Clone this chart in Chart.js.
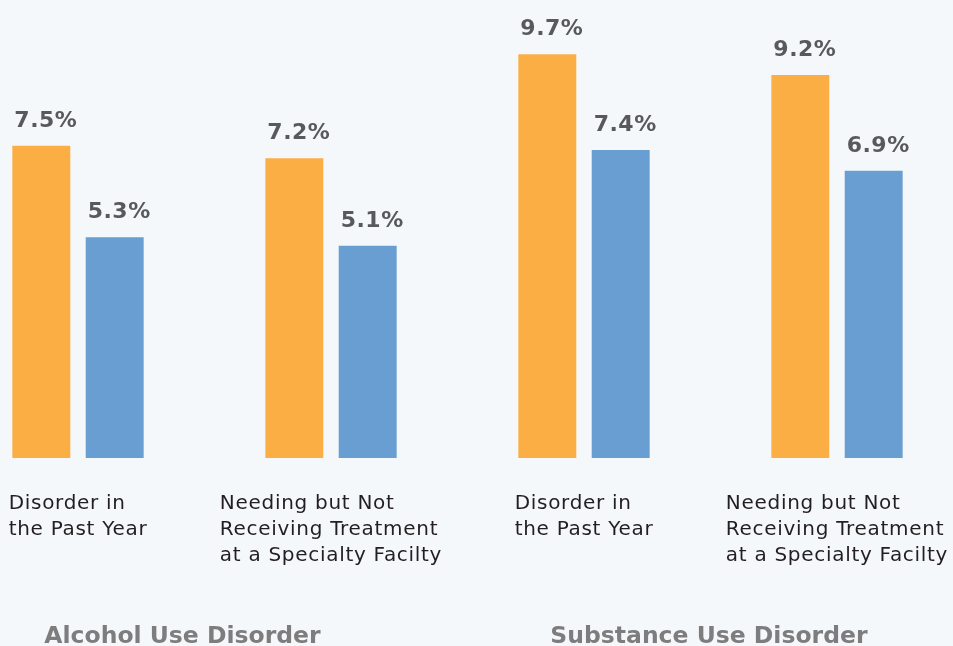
<!DOCTYPE html>
<html>
<head>
<meta charset="utf-8">
<script src="https://cdn.jsdelivr.net/npm/chart.js@4/dist/chart.umd.min.js"></script>
<style>
  html, body { margin: 0; padding: 0; background: #f5f8fb; }
  #wrap { position: relative; width: 953px; height: 646px; }
</style>
</head>
<body>
<div id="wrap"><canvas id="chart"></canvas></div>
<script>
// data
const categories = [
  ['Disorder in', 'the Past Year'],
  ['Needing but Not', 'Receiving Treatment', 'at a Specialty Facilty'],
  ['Disorder in', 'the Past Year'],
  ['Needing but Not', 'Receiving Treatment', 'at a Specialty Facilty']
];
const groups = ['Alcohol Use Disorder', 'Substance Use Disorder'];
const seriesA = [7.5, 7.2, 9.7, 9.2];   // orange
const seriesB = [5.3, 5.1, 7.4, 6.9];   // blue

const ORANGE = '#fbae43';
const BLUE = '#689ed1';
const FONT = '"DejaVu Sans", sans-serif';

// value labels above each bar, left aligned with the bar
const valueLabels = {
  id: 'valueLabels',
  afterDatasetsDraw(chart){
    const ctx = chart.ctx;
    ctx.save();
    ctx.font = 'bold 22px ' + FONT;
    ctx.letterSpacing = '0.5px';
    ctx.fillStyle = '#58595b';
    ctx.textAlign = 'left';
    ctx.textBaseline = 'alphabetic';
    chart.data.datasets.forEach((ds, di) => {
      chart.getDatasetMeta(di).data.forEach((bar, i) => {
        ctx.fillText(ds.data[i].toFixed(1) + '%', bar.x - bar.width/2 + 2, bar.y - 19);
      });
    });
    ctx.restore();
  }
};

// category labels under bars + group titles
const bottomLabels = {
  id: 'bottomLabels',
  afterDraw(chart){
    const ctx = chart.ctx;
    const metaA = chart.getDatasetMeta(0).data;
    const metaB = chart.getDatasetMeta(1).data;
    ctx.save();
    ctx.textAlign = 'left';
    ctx.textBaseline = 'alphabetic';
    ctx.font = '20px ' + FONT;
    ctx.letterSpacing = '0.7px';
    ctx.fillStyle = '#231f20';
    categories.forEach((lines, i) => {
      const center = (metaA[i].x + metaB[i].x) / 2;
      const w = Math.max(...lines.map(l => ctx.measureText(l).width));
      const left = center - w/2;
      lines.forEach((l, k) => ctx.fillText(l, left, 509 + k*26));
    });
    ctx.font = 'bold 23.5px ' + FONT;
    ctx.letterSpacing = '0px';
    ctx.fillStyle = '#7d7d7d';
    groups.forEach((g, gi) => {
      const first = metaA[gi*2];
      ctx.fillText(g, first.x - first.width/2 + 32, 643);
    });
    ctx.restore();
  }
};

new Chart(document.getElementById('chart'), {
  type: 'bar',
  data: {
    labels: categories,
    datasets: [
      { data: seriesA, backgroundColor: ORANGE, clip: false },
      { data: seriesB, backgroundColor: BLUE, clip: false }
    ]
  },
  options: {
    responsive: true,
    maintainAspectRatio: false,
    animation: false,
    categoryPercentage: 0.58,
    barPercentage: 0.79,
    layout: { padding: { left: 78, right: 116, top: 0, bottom: 188 } },
    plugins: { legend: { display: false }, tooltip: { enabled: false } },
    scales: {
      x: { display: false, offset: false },
      y: { display: false, min: 0, max: 11 }
    }
  },
  plugins: [valueLabels, bottomLabels]
});
</script>
</body>
</html>
